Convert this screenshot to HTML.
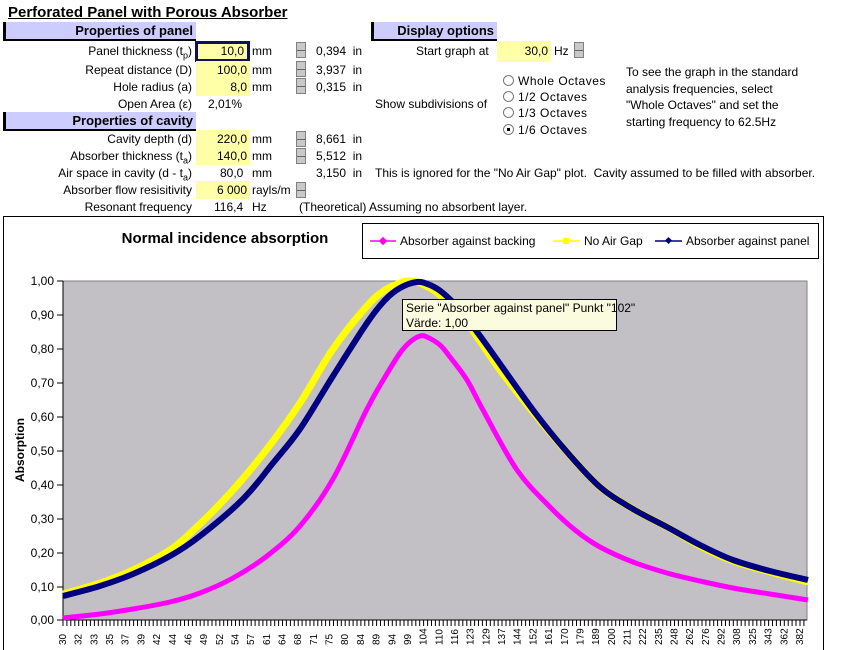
<!DOCTYPE html>
<html><head><meta charset="utf-8"><style>
body{margin:0;width:862px;height:650px;background:#fff;font-family:"Liberation Sans",sans-serif;font-size:12px;color:#000;position:relative;overflow:hidden}
.a{position:absolute;white-space:nowrap;line-height:14px}
.r{text-align:right}
.hdr{position:absolute;background:#ccccff;border-left:3px solid #000;border-bottom:2px solid #000;font-weight:bold;font-size:13px;text-align:right;box-sizing:border-box;padding-right:3px;line-height:17px}
.y{position:absolute;background:#ffffa8;text-align:right;box-sizing:border-box;padding-right:3px;line-height:18px;height:18px}
.sp{position:absolute;width:10px;height:16px;background:#c8c8c8;border:1px solid #808080;box-sizing:border-box}
.sp:after{content:"";position:absolute;left:0;right:0;top:7px;height:1px;background:#666}
.rad{position:absolute;width:9px;height:9px;border:1px solid #777;border-radius:50%;background:#fff}
</style></head><body>
<div class="a" style="left:8px;top:4px;font-weight:bold;font-size:15px;line-height:18px;text-decoration:underline">Perforated Panel with Porous Absorber</div>
<div class="hdr" style="left:3px;top:22px;width:193px;height:19px">Properties of panel</div>
<div class="hdr" style="left:371px;top:22px;width:126px;height:19px">Display options</div>
<div class="hdr" style="left:3px;top:112px;width:193px;height:19px">Properties of cavity</div>

<div class="a r" style="right:670px;top:44px">Panel thickness (t<sub style="font-size:9px">p</sub>)</div>
<div class="a r" style="right:670px;top:63px">Repeat distance (D)</div>
<div class="a r" style="right:670px;top:80px">Hole radius (a)</div>
<div class="a r" style="right:670px;top:97px">Open Area (ε)</div>
<div class="a r" style="right:670px;top:132px">Cavity depth (d)</div>
<div class="a r" style="right:670px;top:149px">Absorber thickness (t<sub style="font-size:9px">a</sub>)</div>
<div class="a r" style="right:670px;top:166px">Air space in cavity (d - t<sub style="font-size:9px">a</sub>)</div>
<div class="a r" style="right:670px;top:183px">Absorber flow resisitivity</div>
<div class="a r" style="right:670px;top:200px">Resonant frequency</div>

<div class="y" style="left:195px;top:41px;width:55px;height:21px;border:3px solid #10105a;line-height:15px">10,0</div>
<div class="y" style="left:196px;top:61px;width:54px">100,0</div>
<div class="y" style="left:196px;top:78px;width:54px">8,0</div>
<div class="a" style="left:208px;top:97px">2,01%</div>
<div class="y" style="left:196px;top:130px;width:54px">220,0</div>
<div class="y" style="left:196px;top:147px;width:54px">140,0</div>
<div class="a" style="left:220px;top:166px">80,0</div>
<div class="y" style="left:196px;top:181px;width:54px">6 000</div>
<div class="a" style="left:214px;top:200px">116,4</div>

<div class="a" style="left:252px;top:44px">mm</div>
<div class="a" style="left:252px;top:63px">mm</div>
<div class="a" style="left:252px;top:80px">mm</div>
<div class="a" style="left:252px;top:132px">mm</div>
<div class="a" style="left:252px;top:149px">mm</div>
<div class="a" style="left:252px;top:166px">mm</div>
<div class="a" style="left:252px;top:183px">rayls/m</div>
<div class="a" style="left:252px;top:200px">Hz</div>

<div class="sp" style="left:296px;top:42px"></div>
<div class="sp" style="left:296px;top:61px"></div>
<div class="sp" style="left:296px;top:78px"></div>
<div class="sp" style="left:296px;top:131px"></div>
<div class="sp" style="left:296px;top:148px"></div>
<div class="sp" style="left:296px;top:182px"></div>
<div class="sp" style="left:574px;top:42px"></div>

<div class="a" style="left:316px;top:44px">0,394&nbsp; in</div>
<div class="a" style="left:316px;top:63px">3,937&nbsp; in</div>
<div class="a" style="left:316px;top:80px">0,315&nbsp; in</div>
<div class="a" style="left:316px;top:132px">8,661&nbsp; in</div>
<div class="a" style="left:316px;top:149px">5,512&nbsp; in</div>
<div class="a" style="left:316px;top:166px">3,150&nbsp; in</div>
<div class="a" style="left:375px;top:166px">This is ignored for the "No Air Gap" plot.&nbsp; Cavity assumed to be filled with absorber.</div>
<div class="a" style="left:299px;top:200px">(Theoretical) Assuming no absorbent layer.</div>

<div class="a" style="left:416px;top:44px">Start graph at</div>
<div class="y" style="left:497px;top:41px;width:54px;height:21px;line-height:21px">30,0</div>
<div class="a" style="left:554px;top:44px">Hz</div>
<div class="a" style="left:375px;top:97px">Show subdivisions of</div>
<div class="rad" style="left:503px;top:75px"></div>
<div class="rad" style="left:503px;top:91px"></div>
<div class="rad" style="left:503px;top:107px"></div>
<div class="rad" style="left:503px;top:124px"><div style="position:absolute;left:3px;top:3px;width:3px;height:3px;background:#000"></div></div>
<div class="a" style="left:518px;top:74px;letter-spacing:0.5px">Whole Octaves</div>
<div class="a" style="left:518px;top:90px;letter-spacing:0.5px">1/2 Octaves</div>
<div class="a" style="left:518px;top:106px;letter-spacing:0.5px">1/3 Octaves</div>
<div class="a" style="left:518px;top:123px;letter-spacing:0.5px">1/6 Octaves</div>
<div class="a" style="left:626px;top:64px;line-height:16.7px">To see the graph in the standard<br>analysis frequencies, select<br>"Whole Octaves" and set the<br>starting frequency to 62.5Hz</div>

<svg style="position:absolute;left:0;top:0" width="862" height="650">
<rect x="3.5" y="216.5" width="820" height="440" fill="#fff" stroke="#000"/>
<text x="225" y="243" font-family="Liberation Sans" font-size="15" font-weight="bold" text-anchor="middle">Normal incidence absorption</text>
<rect x="362.5" y="223.5" width="456" height="35" fill="#fff" stroke="#000"/>
<line x1="370" y1="241" x2="396" y2="241" stroke="#ff00ff" stroke-width="1.5"/><rect x="380" y="238" width="6" height="6" fill="#ff00ff" transform="rotate(45 383 241)"/>
<text x="400" y="245" font-family="Liberation Sans" font-size="12">Absorber against backing</text>
<line x1="553" y1="241" x2="580" y2="241" stroke="#ffff00" stroke-width="1.5"/><rect x="563" y="238" width="6" height="6" fill="#ffff00"/>
<text x="584" y="245" font-family="Liberation Sans" font-size="12">No Air Gap</text>
<line x1="655" y1="241" x2="682" y2="241" stroke="#000080" stroke-width="1.5"/><rect x="666" y="238" width="5" height="5" fill="#000080" transform="rotate(45 668.5 240.5)"/>
<text x="686" y="245" font-family="Liberation Sans" font-size="12">Absorber against panel</text>

<rect x="63" y="281" width="744" height="339" fill="#c2c0c4" stroke="#808080"/>
<g font-family="Liberation Sans" font-size="12" text-anchor="end">
<text x="54" y="285">1,00</text><text x="54" y="319">0,90</text><text x="54" y="353">0,80</text><text x="54" y="387">0,70</text><text x="54" y="421">0,60</text><text x="54" y="455">0,50</text><text x="54" y="489">0,40</text><text x="54" y="523">0,30</text><text x="54" y="557">0,20</text><text x="54" y="591">0,10</text><text x="54" y="624">0,00</text>
</g>
<path d="M57 281H63M57 315H63M57 349H63M57 383H63M57 417H63M57 451H63M57 485H63M57 519H63M57 553H63M57 587H63M57 620H63" stroke="#000"/>
<line x1="63" y1="620" x2="807" y2="620" stroke="#000"/>
<line x1="63" y1="281" x2="63" y2="620" stroke="#000"/>
<text transform="translate(24 450) rotate(-90)" font-family="Liberation Sans" font-size="12" font-weight="bold" text-anchor="middle">Absorption</text>
<g id="ticks" stroke="#000"></g>
<path id="cy" d="M63,594 100,583 133,570 170,550 200,524 233,490 267,449 300,403 333,349 367,306 385,290 400,283 407,281 420,283 440,295 467,323 500,370 533,412 567,452 600,487 633,509 667,527 700,546 733,561 770,572 808,582" fill="none" stroke="#ffff00" stroke-width="7" stroke-linejoin="round"/>
<path id="cb" d="M63,596 100,586 133,574 170,556 200,536 243,499 273,463 300,429 333,376 367,323 385,300 400,288 417,282 430,285 443,293 460,310 483,340 533,410 567,452 600,487 633,509 667,527 700,545 733,560 770,571 808,580" fill="none" stroke="#000080" stroke-width="6" stroke-linejoin="round"/>
<path id="cp" d="M63,618 100,614 133,609 170,602 200,593 233,578 267,556 300,526 333,479 367,409 385,377 400,353 410,342 420,336 427,337 440,345 450,357 467,380 483,410 517,470 550,507 575,530 600,547 633,562 667,573 700,581 733,588 770,594 808,600" fill="none" stroke="#ff00ff" stroke-width="5" stroke-linejoin="round"/>
<rect x="402.5" y="299.5" width="214" height="31" fill="#fbfbe0" stroke="#000"/>
<text x="406" y="312" font-family="Liberation Sans" font-size="12">Serie "Absorber against panel" Punkt "102"</text>
<text x="406" y="327" font-family="Liberation Sans" font-size="12">Värde: 1,00</text>
<g id="xl" font-family="Liberation Sans" font-size="10"></g>
</svg>
<script>
var t='',i;for(i=0;i<=190;i++){var x=63+i*3.92;if(x>807.5)break;t+='<line x1="'+x.toFixed(1)+'" y1="620" x2="'+x.toFixed(1)+'" y2="626"/>';}
document.getElementById('ticks').innerHTML=t;
var L=[30,32,33,35,37,39,42,44,46,49,52,54,57,61,64,68,71,75,80,84,89,94,99,104,110,116,123,129,137,144,152,161,170,179,189,200,211,222,235,248,262,276,292,308,325,343,362,382],s='';
for(i=0;i<L.length;i++){var x=62+i*15.68+4;s+='<text transform="translate('+x.toFixed(1)+' 645) rotate(-90)">'+L[i]+'</text>';}
document.getElementById('xl').innerHTML=s;
['cy','cb','cp'].forEach(function(id){
 var el=document.getElementById(id);
 var p=el.getAttribute('d').replace('M','').trim().split(/\s+/).map(function(q){return q.split(',').map(Number);});
 var d='M'+p[0][0]+','+p[0][1];
 for(var k=0;k<p.length-1;k++){
  var p0=p[k>0?k-1:k],p1=p[k],p2=p[k+1],p3=p[k+2<p.length?k+2:k+1];
  var c1x=p1[0]+(p2[0]-p0[0])/6,c1y=p1[1]+(p2[1]-p0[1])/6,c2x=p2[0]-(p3[0]-p1[0])/6,c2y=p2[1]-(p3[1]-p1[1])/6;
  d+=' C'+c1x.toFixed(1)+','+c1y.toFixed(1)+' '+c2x.toFixed(1)+','+c2y.toFixed(1)+' '+p2[0]+','+p2[1];
 }
 el.setAttribute('d',d);
});
</script>
</body></html>
